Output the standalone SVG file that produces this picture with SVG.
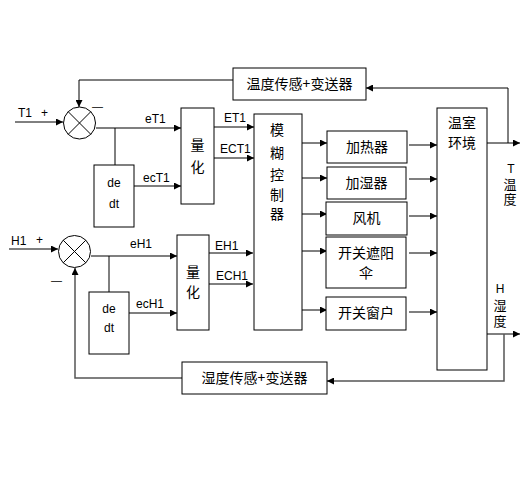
<svg xmlns="http://www.w3.org/2000/svg" width="531" height="484" viewBox="0 0 531 484">
<defs>
<marker id="ah" viewBox="0 0 10 10" refX="10" refY="5" markerWidth="9" markerHeight="7" markerUnits="userSpaceOnUse" orient="auto">
<path d="M0,0 L10,5 L0,10 z" fill="#000"/>
</marker>
</defs>
<style>
.box{fill:#fff;stroke:#000;stroke-width:1}
.ln{fill:none;stroke:#000;stroke-width:1}
.gl{fill:none;stroke:#555;stroke-width:1.5}
.t{font-family:"Liberation Sans","Noto Sans CJK SC",sans-serif;font-size:12px;fill:#000}
.c{font-family:"Noto Sans CJK SC","Liberation Sans",sans-serif;font-size:14px;fill:#000;text-anchor:middle}
.v{font-family:"Liberation Sans","Noto Sans CJK SC",sans-serif;font-size:13px;fill:#000;text-anchor:middle}
.m{text-anchor:middle}
</style>
<rect width="531" height="484" fill="#fff"/>

<g id="connectors">
<!-- T loop -->
<path class="ln" d="M15,122 H63" marker-end="url(#ah)"/>
<path class="ln" d="M233,80 H79 V107" marker-end="url(#ah)"/>
<path class="gl" d="M96,128 H181" marker-end="url(#ah)"/>
<path class="ln" d="M115,128 V165"/>
<path class="gl" d="M134,186 H181" marker-end="url(#ah)"/>
<path class="ln" d="M214,127 H254" marker-end="url(#ah)"/>
<path class="ln" d="M214,158 H254" marker-end="url(#ah)"/>
<!-- H loop -->
<path class="gl" d="M9,249 H58" marker-end="url(#ah)"/>
<path class="gl" d="M91,256 H177" marker-end="url(#ah)"/>
<path class="ln" d="M109,256 V292"/>
<path class="gl" d="M129,313 H177" marker-end="url(#ah)"/>
<path class="ln" d="M209,253 H253" marker-end="url(#ah)"/>
<path class="ln" d="M209,284 H253" marker-end="url(#ah)"/>
<path class="gl" d="M182,378 H75 V268" marker-end="url(#ah)"/>
<!-- fuzzy to actuators -->
<path class="ln" d="M302,143 H327" marker-end="url(#ah)"/>
<path class="ln" d="M302,178 H327" marker-end="url(#ah)"/>
<path class="ln" d="M302,214 H327" marker-end="url(#ah)"/>
<path class="ln" d="M302,251 H327" marker-end="url(#ah)"/>
<path class="ln" d="M302,310 H327" marker-end="url(#ah)"/>
<!-- actuators to greenhouse -->
<path class="gl" d="M409,145 H437" marker-end="url(#ah)"/>
<path class="gl" d="M409,179 H437" marker-end="url(#ah)"/>
<path class="gl" d="M409,216 H437" marker-end="url(#ah)"/>
<path class="gl" d="M409,253 H437" marker-end="url(#ah)"/>
<path class="gl" d="M409,312 H437" marker-end="url(#ah)"/>
<!-- outputs -->
<path class="ln" d="M487,143 H520" marker-end="url(#ah)"/>
<path class="ln" d="M508,143 V88 H366" marker-end="url(#ah)"/>
<path class="ln" d="M487,334 H520" marker-end="url(#ah)"/>
<path class="gl" d="M504,334 V381 H327" marker-end="url(#ah)"/>
</g>

<g id="sumT">
<circle cx="79.5" cy="123" r="16" fill="#fff" stroke="#000"/>
<path class="ln" d="M68.2,111.7 L90.8,134.3 M90.8,111.7 L68.2,134.3"/>
<text class="t" x="18" y="117">T1</text>
<text class="t" x="41" y="117">+</text>
<text class="t" x="92" y="110" style="font-size:11px">—</text>
</g>
<g id="sumH">
<circle cx="74.5" cy="251.5" r="16" fill="#fff" stroke="#000"/>
<path class="ln" d="M63.2,240.2 L85.8,262.8 M85.8,240.2 L63.2,262.8"/>
<text class="t" x="11" y="245">H1</text>
<text class="t" x="36" y="244">+</text>
<text class="t" x="51" y="284" style="font-size:11px">—</text>
</g>

<g id="labels">
<text class="t" x="145" y="123">eT1</text>
<text class="t" x="143" y="182">ecT1</text>
<text class="t" x="224" y="122">ET1</text>
<text class="t" x="220" y="153">ECT1</text>
<text class="t" x="130" y="248">eH1</text>
<text class="t" x="136" y="308">ecH1</text>
<text class="t" x="215" y="250">EH1</text>
<text class="t" x="216" y="280">ECH1</text>
<text class="t m" x="511" y="173">T</text>
<text class="v" x="510" y="189">温</text>
<text class="v" x="510" y="204">度</text>
<text class="t m" x="500" y="293">H</text>
<text class="v" x="500" y="310">湿</text>
<text class="v" x="500" y="326">度</text>
</g>

<g id="tempSensor">
<rect class="box" x="233" y="68" width="133" height="32"/>
<text class="c" x="299.5" y="89">温度传感+变送器</text>
</g>
<g id="humSensor">
<rect class="box" x="182" y="362" width="145" height="32"/>
<text class="c" x="254.5" y="383">湿度传感+变送器</text>
</g>

<g id="dedtT">
<rect class="box" x="94" y="165" width="40" height="62"/>
<text class="t m" x="114" y="187">de</text>
<text class="t m" x="114" y="208">dt</text>
</g>
<g id="dedtH">
<rect class="box" x="89" y="292" width="40" height="62"/>
<text class="t m" x="109" y="313">de</text>
<text class="t m" x="109" y="332">dt</text>
</g>

<g id="quantT">
<rect class="box" x="181" y="108" width="33" height="96"/>
<text class="c" x="197.5" y="150">量</text>
<text class="c" x="197.5" y="172">化</text>
</g>
<g id="quantH">
<rect class="box" x="177" y="235" width="32" height="95"/>
<text class="c" x="193" y="277">量</text>
<text class="c" x="193" y="297">化</text>
</g>

<g id="fuzzy">
<rect class="box" x="254" y="114" width="48" height="216"/>
<text class="c" x="277" y="135">模</text>
<text class="c" x="277" y="158">糊</text>
<text class="c" x="277" y="180">控</text>
<text class="c" x="277" y="200">制</text>
<text class="c" x="277" y="219">器</text>
</g>

<g id="heater">
<rect class="box" x="327" y="131" width="80" height="32"/>
<text class="c" x="367" y="152">加热器</text>
</g>
<g id="humidifier">
<rect class="box" x="327" y="167" width="79" height="32"/>
<text class="c" x="366.5" y="188">加湿器</text>
</g>
<g id="fan">
<rect class="box" x="326" y="202" width="81" height="33"/>
<text class="c" x="366.5" y="223">风机</text>
</g>
<g id="shade">
<rect class="box" x="326" y="237" width="80" height="51"/>
<text class="c" x="366" y="258">开关遮阳</text>
<text class="c" x="366" y="278">伞</text>
</g>
<g id="window">
<rect class="box" x="326" y="297" width="80" height="33"/>
<text class="c" x="366" y="318">开关窗户</text>
</g>

<g id="greenhouse">
<rect class="box" x="437" y="108" width="50" height="262"/>
<text class="c" x="462" y="128">温室</text>
<text class="c" x="462" y="148">环境</text>
</g>
</svg>
